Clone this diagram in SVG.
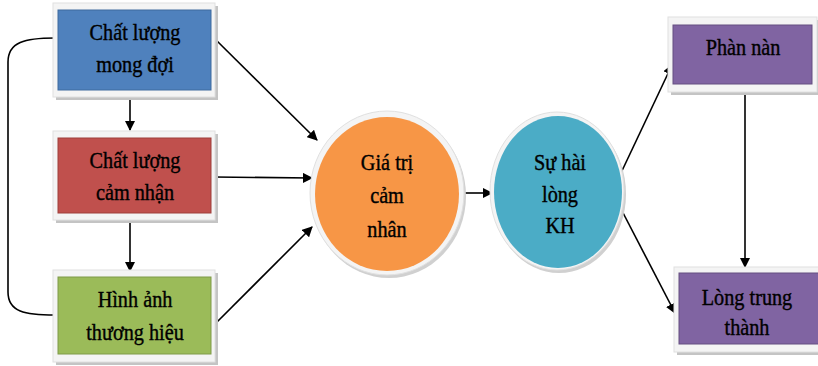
<svg xmlns="http://www.w3.org/2000/svg" width="818" height="366" viewBox="0 0 818 366">
<defs>
<style>
.frame{fill:#f4f4f4;stroke:#e0e0e0;stroke-width:1}
.shadow{fill:#c4c4c4}
.t{font-family:"Liberation Serif","Times New Roman",serif;font-size:23px;fill:#000;text-anchor:middle;stroke:#000;stroke-width:0.4}
.c{fill:none;stroke:#000;stroke-width:1.6}
.a{fill:none;stroke:#000;stroke-width:1.6;marker-end:url(#ah)}
</style>
<marker id="ah" viewBox="0 0 10 10" refX="9" refY="5" markerWidth="6.5" markerHeight="6.5" orient="auto" markerUnits="strokeWidth">
<path d="M0,0 L10,5 L0,10 z" fill="#000"/>
</marker>
</defs>
<rect width="818" height="366" fill="#fff"/>

<g id="connectors">
<path class="c" d="M55,38 C25,38 8,42 8,62 L8,292 C8,312 25,315 55,315"/>
<line class="a" x1="130" y1="90" x2="130" y2="130"/>
<line class="a" x1="130" y1="213" x2="130" y2="271"/>
<line class="a" x1="214" y1="38" x2="317" y2="140"/>
<line class="a" x1="214" y1="177" x2="312" y2="178"/>
<line class="a" x1="214" y1="325" x2="312" y2="227"/>
<line class="a" x1="462" y1="193" x2="492" y2="193"/>
<line class="a" x1="620" y1="175" x2="672" y2="65"/>
<line class="a" x1="620" y1="207" x2="675" y2="313"/>
<line class="a" x1="745" y1="93" x2="745" y2="267"/>
</g>

<g id="chat-luong-mong-doi">
<rect class="shadow" x="56" y="6" width="162" height="94"/>
<rect class="frame" x="53" y="3" width="162" height="94"/>
<rect x="58" y="10" width="153" height="80" fill="#4F81BD" stroke="#3f6a9e" stroke-width="1"/>
<text class="t" transform="translate(135,40) scale(0.88,1)">Chất lượng</text>
<text class="t" transform="translate(135,72) scale(0.88,1)">mong đợi</text>
</g>

<g id="chat-luong-cam-nhan">
<rect class="shadow" x="56" y="134" width="162" height="89"/>
<rect class="frame" x="53" y="131" width="162" height="89"/>
<rect x="58" y="138" width="153" height="75" fill="#C0504D" stroke="#9e3e3b" stroke-width="1"/>
<text class="t" transform="translate(135,168) scale(0.88,1)">Chất lượng</text>
<text class="t" transform="translate(135,200) scale(0.88,1)">cảm nhận</text>
</g>

<g id="hinh-anh-thuong-hieu">
<rect class="shadow" x="56" y="273" width="162" height="92"/>
<rect class="frame" x="53" y="270" width="162" height="92"/>
<rect x="58" y="277" width="153" height="77" fill="#9BBB59" stroke="#7f9a48" stroke-width="1"/>
<text class="t" transform="translate(135,307) scale(0.88,1)">Hình ảnh</text>
<text class="t" transform="translate(135,340) scale(0.88,1)">thương hiệu</text>
</g>

<g id="gia-tri-cam-nhan">
<ellipse cx="389" cy="196" rx="77" ry="82" fill="#d0d0d0"/>
<ellipse cx="387" cy="193" rx="77" ry="82" fill="#f4f4f4" stroke="#e0e0e0"/>
<ellipse cx="387" cy="194" rx="72" ry="77" fill="#F79646"/>
<text class="t" transform="translate(387,170) scale(0.88,1)">Giá trị</text>
<text class="t" transform="translate(387,203) scale(0.88,1)">cảm</text>
<text class="t" transform="translate(387,237) scale(0.88,1)">nhân</text>
</g>

<g id="su-hai-long-kh">
<ellipse cx="559" cy="194" rx="67" ry="79" fill="#d0d0d0"/>
<ellipse cx="557" cy="191" rx="67" ry="79" fill="#f4f4f4" stroke="#e0e0e0"/>
<ellipse cx="558" cy="192" rx="64" ry="76" fill="#4BACC6"/>
<text class="t" transform="translate(560,170) scale(0.88,1)">Sự hài</text>
<text class="t" transform="translate(560,202) scale(0.88,1)">lòng</text>
<text class="t" transform="translate(560,233) scale(0.88,1)">KH</text>
</g>

<g id="phan-nan">
<rect class="shadow" x="671" y="20" width="150" height="75"/>
<rect class="frame" x="668" y="17" width="149" height="75"/>
<rect x="673" y="25" width="139" height="59" fill="#8064A2" stroke="#654f80" stroke-width="1"/>
<text class="t" transform="translate(743,55) scale(0.88,1)">Phàn nàn</text>
</g>

<g id="long-trung-thanh">
<rect class="shadow" x="677" y="270" width="150" height="85"/>
<rect class="frame" x="674" y="267" width="150" height="85"/>
<rect x="679" y="273" width="140" height="71" fill="#8064A2" stroke="#654f80" stroke-width="1"/>
<text class="t" transform="translate(747,305) scale(0.88,1)">Lòng trung</text>
<text class="t" transform="translate(747,335) scale(0.88,1)">thành</text>
</g>
</svg>
